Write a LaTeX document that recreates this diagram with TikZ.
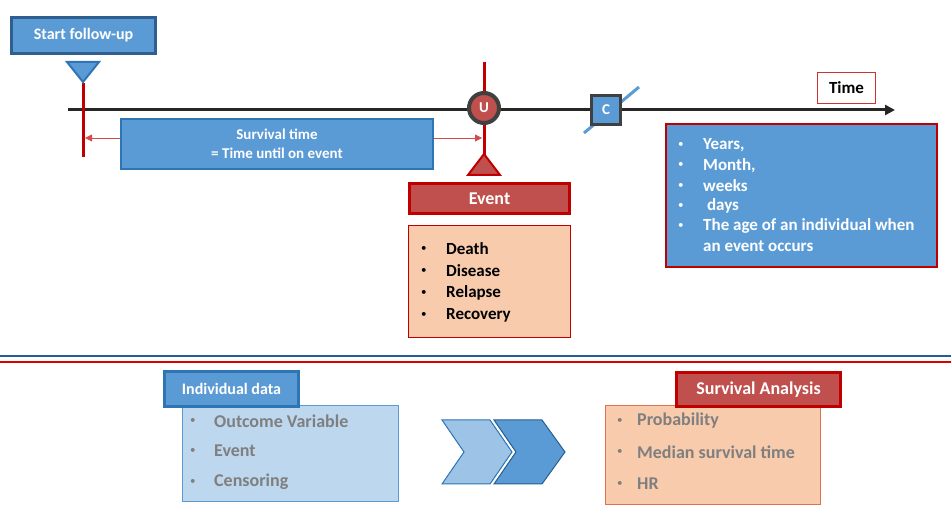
\documentclass[tikz,border=0pt]{standalone}
\usepackage{fontspec}
\setmainfont{Carlito}
\usepackage{tikz}
\usetikzlibrary{positioning, shapes.geometric, arrows.meta}
\definecolor{boxblue}{HTML}{5B9BD5}
\definecolor{edgeblue}{HTML}{2E75B6}
\definecolor{darkblue}{HTML}{2F5F8F}
\definecolor{paleblue}{HTML}{BDD7EE}
\definecolor{chevblue}{HTML}{9DC3E6}
\definecolor{boxred}{HTML}{C0504D}
\definecolor{edgered}{HTML}{C00000}
\definecolor{peach}{HTML}{F8CBAD}
\definecolor{peachedge}{HTML}{E0704F}
\definecolor{darkgray}{HTML}{404040}
\definecolor{textgray}{HTML}{7F7F7F}
\newcommand\fs[1]{\fontsize{#1}{#1}\selectfont}

\begin{document}
\begin{tikzpicture}[x=1pt,y=-1pt,
          head/.style={rectangle,line width=3pt,inner sep=0pt,text=white,font=\bfseries\fs{16}},
          bluehead/.style={head,fill=boxblue,draw=#1},
          redhead/.style={head,fill=boxred,draw=edgered,font=\bfseries\fs{18}},
          listbox/.style={rectangle,inner sep=0pt},
          item/.style={anchor=west,inner sep=0pt,font=\bfseries\fs{17}},
          dot/.style={anchor=west,inner sep=0pt,font=\fs{11}},
          bigitem/.style={anchor=west,inner sep=0pt,text=textgray,font=\bfseries\fs{18}},
          redbar/.style={edgered,line width=3pt},
          span/.style={edgered!70,line width=0.8pt,-{Triangle[length=7pt,width=7pt]}}
        ]
        \useasboundingbox (0,0) rectangle (951,510);
        % time axis
        \coordinate (t0) at (68,110);
        \coordinate (t1) at (895,110);
        \draw[black!85,line width=3pt,-{Triangle[length=10pt,width=10pt]}] (t0) -- (t1);
        % start of follow-up
        \node[bluehead=darkblue,minimum width=144,minimum height=36] (start) at (83.5,35.5) {Start follow-up};
        \draw[redbar] (83,83) -- (83,157);
        \draw[fill=boxblue,draw=edgeblue,line width=2pt,line join=miter] (67,62) -- (99,62) -- (83,82) -- cycle;
        % event marker
        \draw[redbar] (484,62) -- (484,158);
        \node[circle,fill=boxred,draw=darkgray,line width=4pt,minimum size=30,inner sep=0pt,
              text=white,font=\bfseries\fs{15}] (u) at (484,108) {U};
        \draw[fill=boxred,draw=edgered,line width=2pt] (468,175) -- (500,175) -- (484,154) -- cycle;
        % survival time
        \node[rectangle,fill=boxblue,draw=edgeblue,line width=2pt,minimum width=312,minimum height=50,
              text=white,align=center,font=\bfseries\fontsize{15}{19}\selectfont] (surv) at (277,144)
              {Survival time\\= Time until on event};
        \coordinate (sl) at (85,138);
        \coordinate (sr) at (482,138);
        \draw[span] ([yshift=6pt]surv.west) -- (sl);
        \draw[span] ([yshift=6pt]surv.east) -- (sr);
        % censoring
        \draw[boxblue,line width=3pt] (584,133) -- (639,87);
        \node[rectangle,fill=boxblue,draw=darkgray,line width=3pt,minimum size=29,inner sep=0pt,
              text=white,font=\bfseries\fs{15}] (c) at (606,110) {C};
        \node[rectangle,fill=white,draw=edgered!80,line width=1pt,minimum width=58,minimum height=31,
              inner sep=0pt,font=\bfseries\fs{17}] (time) at (846.5,88) {Time};
        % event
        \node[redhead,minimum width=160,minimum height=30] (event) at (489.5,198.5) {Event};
        \node[listbox,fill=peach,draw=edgered,line width=1.5pt,minimum width=162,minimum height=112] (evlist) at (489.5,281.5) {};
        \foreach\t [count=\i] in {Death,Disease,Relapse,Recovery}{
          \node[dot] (evb\i) at (421,227+22*\i) {\textbullet};
          \node[item] (ev\i) at (446,227+22*\i) {\t};
        }
        % time units
        \node[listbox,fill=boxblue,draw=edgered,line width=2pt,minimum width=271,minimum height=143] (units) at (801.5,195.5) {};
        \foreach\t [count=\i] in {{Years,},{Month,},weeks,{\ days},The age of an individual when}{
          \node[dot,text=white] (unb\i) at (678,125+20.2*\i) {\textbullet};
          \node[item,text=white] (un\i) at (703,125+20.2*\i) {\t};
        }
        \node[item,text=white] (un6) at (703,246) {an event occurs};
        % separators
        \draw[edgeblue!80!black,line width=1.2pt] (0,356) -- (951,356);
        \draw[red!85!black,line width=1.2pt] (0,362) -- (951,362);
        % individual data
        \node[listbox,fill=paleblue,draw=boxblue,line width=1pt,minimum width=216,minimum height=96] (indlist) at (290.5,453.5) {};
        \node[bluehead=edgeblue,minimum width=134,minimum height=35] (ind) at (231.5,389) {Individual data};
        \foreach\t/\y [count=\i] in {Outcome Variable/421,Event/451,Censoring/482}{
          \node[dot,text=textgray] (indb\i) at (190,\y) {\textbullet};
          \node[bigitem] (ind\i) at (214,\y) {\t};
        }
        % chevrons
        \draw[fill=chevblue,draw=edgeblue,line width=1pt,line join=miter]
          (442,420) -- (490,420) -- (512,452) -- (490,484) -- (442,484) -- (464,452) -- cycle;
        \draw[fill=boxblue,draw=edgeblue!80!black,line width=1pt,line join=miter]
          (494,420) -- (542,420) -- (565,452) -- (542,484) -- (494,484) -- (516,452) -- cycle;
        % survival analysis
        \node[listbox,fill=peach,draw=peachedge,line width=1pt,minimum width=215,minimum height=99] (salist) at (713,455) {};
        \node[redhead,minimum width=164,minimum height=34] (sa) at (758.5,389.5) {Survival Analysis};
        \foreach\t/\y [count=\i] in {Probability/421,Median survival time/452,HR/484}{
          \node[dot,text=textgray] (sab\i) at (617,\y) {\textbullet};
          \node[bigitem] (sa\i) at (637,\y) {\t};
        }
\end{tikzpicture}
\end{document}
